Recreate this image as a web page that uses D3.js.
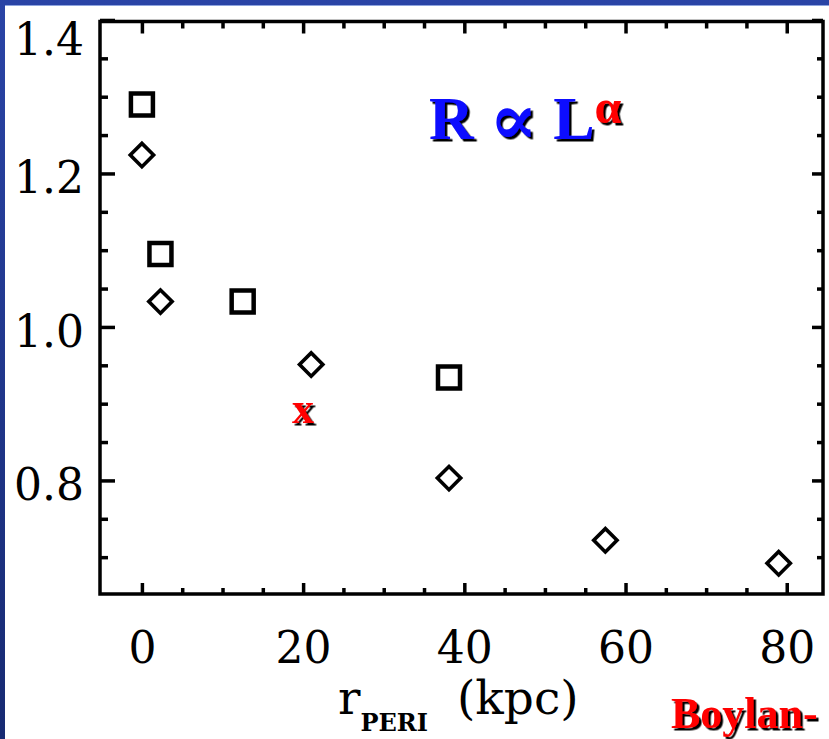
<!DOCTYPE html>
<html>
<head>
<meta charset="utf-8">
<script src="https://cdn.jsdelivr.net/npm/d3@7"></script>
<style>
  html, body { margin: 0; padding: 0; background: #ffffff; }
  svg { display: block; }
</style>
</head>
<body>
<svg id="chart" width="829" height="739"></svg>
<script>
// Size/luminosity slope against pericentre distance
const squareX  = [0, 2.3, 12.5, 38.1];
const squareY  = [1.29, 1.095, 1.033, 0.934];
const diamondX = [0, 2.3, 21, 38.1, 57.5, 79];
const diamondY = [1.224, 1.033, 0.951, 0.803, 0.722, 0.692];
const crossX   = [20];
const crossY   = [0.889];

const xTickValues = [0, 20, 40, 60, 80];
const yTickValues = [0.8, 1.0, 1.2, 1.4];
const xMinorValues = [5, 10, 15, 25, 30, 35, 45, 50, 55, 65, 70, 75];
const yMinorValues = [0.7, 0.75, 0.85, 0.9, 0.95, 1.05, 1.1, 1.15, 1.25, 1.3, 1.35];

const W = 829, H = 739;
const svg = d3.select("#chart");

const defs = svg.append("defs");
// slide background gradient
const grad = defs.append("linearGradient").attr("id", "slideBlue")
  .attr("x1", 0).attr("y1", 0).attr("x2", 0).attr("y2", 1);
grad.append("stop").attr("offset", "0%").attr("stop-color", "#2a44a6");
grad.append("stop").attr("offset", "100%").attr("stop-color", "#172a72");
// hard black drop shadow for the slide lettering
const shadow = defs.append("filter").attr("id", "hardShadow")
  .attr("x", "-10%").attr("y", "-10%").attr("width", "130%").attr("height", "130%");
shadow.append("feDropShadow").attr("dx", 2.5).attr("dy", 2.5)
  .attr("stdDeviation", 0).attr("flood-color", "#000").attr("flood-opacity", 1);

svg.append("rect").attr("width", W).attr("height", H).attr("fill", "url(#slideBlue)");
svg.append("rect").attr("x", 5).attr("y", 5).attr("width", W - 5).attr("height", 1)
  .attr("fill", "#8ea4de");
svg.append("rect").attr("x", 5).attr("y", 6).attr("width", W - 5).attr("height", H - 6)
  .attr("fill", "#ffffff");

const plot = { left: 100, right: 823, top: 21.5, bottom: 594 };

const x = d3.scaleLinear().domain([-5.2, 84.5]).range([plot.left, plot.right]);
const y = d3.scaleLinear().domain([0.652, 1.398]).range([plot.bottom, plot.top]);

const axisFont = "'DejaVu Serif', serif";
const slideFont = "'Liberation Serif', 'Times New Roman', serif";
const lw = 3.5;

function styleAxis(g) {
  g.select(".domain").remove();
  g.selectAll(".tick line").attr("stroke", "#000").attr("stroke-width", lw);
}

// bottom axis with labels
const gBottom = svg.append("g").attr("transform", `translate(0,${plot.bottom})`)
  .call(d3.axisBottom(x).tickValues(xTickValues).tickSizeInner(-11).tickSizeOuter(0)
    .tickFormat(d3.format("d")))
  .call(styleAxis);
gBottom.selectAll(".tick text")
  .attr("y", 69).attr("dy", null)
  .attr("font-family", axisFont).attr("font-size", 44).attr("fill", "#000");
svg.append("g").attr("transform", `translate(0,${plot.bottom})`)
  .call(d3.axisBottom(x).tickValues(xMinorValues).tickSizeInner(-6).tickSizeOuter(0).tickFormat(""))
  .call(styleAxis);

// top axis (ticks only)
svg.append("g").attr("transform", `translate(0,${plot.top})`)
  .call(d3.axisTop(x).tickValues(xTickValues).tickSizeInner(-12).tickSizeOuter(0).tickFormat(""))
  .call(styleAxis);
svg.append("g").attr("transform", `translate(0,${plot.top})`)
  .call(d3.axisTop(x).tickValues(xMinorValues).tickSizeInner(-7).tickSizeOuter(0).tickFormat(""))
  .call(styleAxis);

// left axis with labels; the top label is kept inside the panel
const gLeft = svg.append("g").attr("transform", `translate(${plot.left},0)`)
  .call(d3.axisLeft(y).tickValues(yTickValues).tickSizeInner(-15).tickSizeOuter(0)
    .tickFormat(d3.format(".1f")))
  .call(styleAxis);
gLeft.selectAll(".tick text")
  .attr("x", -16).attr("dy", null)
  .attr("font-family", axisFont).attr("font-size", 44).attr("fill", "#000")
  .attr("y", d => Math.max(19.5, plot.top + 32.5 - y(d)));
svg.append("g").attr("transform", `translate(${plot.left},0)`)
  .call(d3.axisLeft(y).tickValues(yMinorValues).tickSizeInner(-8).tickSizeOuter(0).tickFormat(""))
  .call(styleAxis);

// right axis (ticks only)
svg.append("g").attr("transform", `translate(${plot.right},0)`)
  .call(d3.axisRight(y).tickValues(yTickValues).tickSizeInner(-11).tickSizeOuter(0).tickFormat(""))
  .call(styleAxis);
svg.append("g").attr("transform", `translate(${plot.right},0)`)
  .call(d3.axisRight(y).tickValues(yMinorValues).tickSizeInner(-6).tickSizeOuter(0).tickFormat(""))
  .call(styleAxis);

// plot frame
svg.append("rect")
  .attr("x", plot.left).attr("y", plot.top)
  .attr("width", plot.right - plot.left).attr("height", plot.bottom - plot.top)
  .attr("fill", "none").attr("stroke", "#000").attr("stroke-width", lw)
  .attr("stroke-linejoin", "miter");

// square markers
const squares = squareX.map((v, i) => ({ x: v, y: squareY[i] }));
svg.append("g").selectAll("path").data(squares).join("path")
  .attr("d", d3.symbol().type(d3.symbolSquare).size(22 * 22))
  .attr("transform", d => `translate(${x(d.x)},${y(d.y)})`)
  .attr("fill", "none").attr("stroke", "#000").attr("stroke-width", 4.5);

// diamond markers
const diamonds = diamondX.map((v, i) => ({ x: v, y: diamondY[i] }));
svg.append("g").selectAll("path").data(diamonds).join("path")
  .attr("d", d3.symbol().type(d3.symbolSquare).size(16.5 * 16.5))
  .attr("transform", d => `translate(${x(d.x)},${y(d.y)}) rotate(45)`)
  .attr("fill", "none").attr("stroke", "#000").attr("stroke-width", 3.6);

// red cross marker drawn as a bold letter
const crosses = crossX.map((v, i) => ({ x: v, y: crossY[i] }));
svg.append("g").selectAll("text").data(crosses).join("text")
  .attr("x", d => x(d.x)).attr("y", d => y(d.y)).attr("dy", "0.24em")
  .attr("text-anchor", "middle")
  .attr("font-family", slideFont).attr("font-weight", "bold")
  .attr("font-size", 44).attr("fill", "#ff0000")
  .attr("filter", "url(#hardShadow)")
  .text("x");

// R ∝ L^α annotation
const rel = svg.append("text").attr("x", 429).attr("y", 139)
  .attr("font-family", slideFont).attr("font-weight", "bold")
  .attr("font-size", 62).attr("fill", "#0a0aff")
  .attr("filter", "url(#hardShadow)");
rel.append("tspan").text("R ");
rel.append("tspan").attr("font-family", "'DejaVu Serif', serif").attr("font-size", 72)
  .attr("dy", 5).text("\u221D");
rel.append("tspan").attr("dy", -5).text(" L");
rel.append("tspan").attr("fill", "#ff0000").attr("font-size", 48).attr("dy", -16).text("\u03B1");

// x axis title
const title = svg.append("text").attr("x", 338).attr("y", 714)
  .attr("font-family", axisFont).attr("fill", "#000").attr("font-size", 47);
title.append("tspan").text("r");
title.append("tspan").attr("font-size", 24).attr("font-weight", "bold").attr("dy", 17).text("PERI");
title.append("tspan").attr("x", 457).attr("dy", -17).text("(kpc)");

// citation
svg.append("text").attr("x", 671).attr("y", 728)
  .attr("font-family", slideFont).attr("font-weight", "bold")
  .attr("font-size", 44).attr("fill", "#ff0000")
  .attr("filter", "url(#hardShadow)")
  .text("Boylan-");
</script>
</body>
</html>
